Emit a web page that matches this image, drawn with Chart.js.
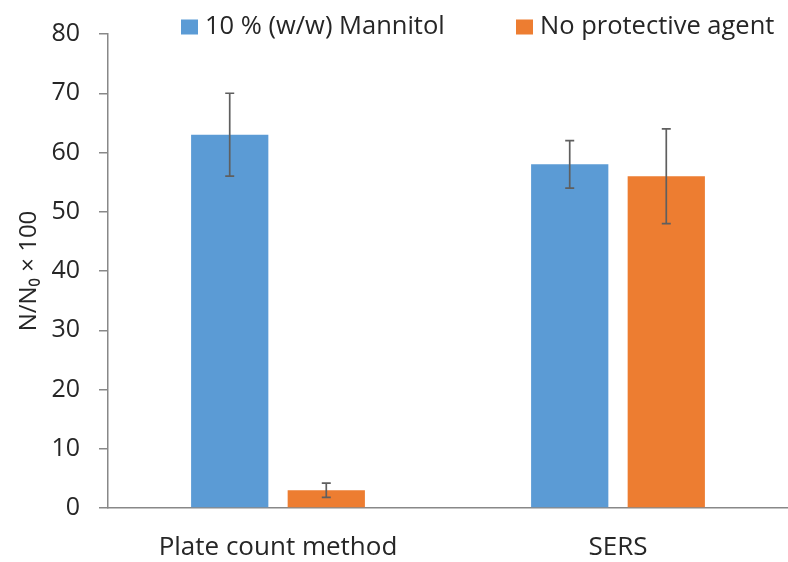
<!DOCTYPE html>
<html>
<head>
<meta charset="utf-8">
<script src="https://cdn.jsdelivr.net/npm/chart.js@4/dist/chart.umd.min.js"></script>
<style>
html,body{margin:0;padding:0;background:#fff;}
#wrap{width:788px;height:562px;}
</style>
</head>
<body>
<div id="wrap"><canvas id="c" width="788" height="562"></canvas></div>
<script>
const categories = ["Plate count method", "SERS"];
const seriesNames = ["10 % (w/w) Mannitol", "No protective agent"];
const mannitol = [63, 58];
const mannitolErr = [7, 4];
const noAgent = [3, 56];
const noAgentErr = [1.2, 8];
const yTicks = [0, 10, 20, 30, 40, 50, 60, 70, 80];

const errors = [mannitolErr, noAgentErr];
const FONT = "'Open Sans'";
const TEXT = '#262626';

const errorBars = {
  id: 'errorBars',
  afterDatasetsDraw(chart) {
    const ctx = chart.ctx;
    const y = chart.scales.y;
    ctx.save();
    ctx.strokeStyle = '#5f5f5f';
    ctx.lineWidth = 1.7;
    chart.data.datasets.forEach((ds, di) => {
      const meta = chart.getDatasetMeta(di);
      meta.data.forEach((bar, i) => {
        const v = ds.data[i], e = errors[di][i];
        const yt = y.getPixelForValue(v + e);
        const yb = y.getPixelForValue(v - e);
        const x = bar.x;
        ctx.beginPath();
        ctx.moveTo(x, yt); ctx.lineTo(x, yb);
        ctx.moveTo(x - 4.5, yt); ctx.lineTo(x + 4.5, yt);
        ctx.moveTo(x - 4.5, yb); ctx.lineTo(x + 4.5, yb);
        ctx.stroke();
      });
    });
    ctx.restore();
  }
};

const customLegend = {
  id: 'customLegend',
  afterDraw(chart) {
    const ctx = chart.ctx;
    ctx.save();
    ctx.font = '25.5px ' + FONT;
    ctx.textBaseline = 'middle';
    ctx.textAlign = 'left';
    const ds = chart.data.datasets;
    const boxW = 17, boxH = 15, gapText = 7;
    const starts = [181, 516];
    const yc = 27;
    ds.forEach((d, i) => {
      const x = starts[i];
      ctx.fillStyle = d.backgroundColor;
      ctx.fillRect(x, yc - boxH / 2, boxW, boxH);
      ctx.fillStyle = TEXT;
      ctx.fillText(d.label, x + boxW + gapText, yc);
    });
    ctx.restore();
  }
};

new Chart(document.getElementById('c'), {
  type: 'bar',
  data: {
    labels: categories,
    datasets: [
      { label: seriesNames[0], data: mannitol, backgroundColor: '#5B9BD5' },
      { label: seriesNames[1], data: noAgent, backgroundColor: '#ED7D31' }
    ]
  },
  options: {
    responsive: false,
    animation: false,
    devicePixelRatio: 1,
    categoryPercentage: 0.568,
    barPercentage: 0.8,
    layout: { padding: { top: 33, right: 0, bottom: 0, left: 0 } },
    plugins: {
      legend: { display: false },
      tooltip: { enabled: false }
    },
    scales: {
      x: {
        afterFit(scale) { scale.height = 54; },
        grid: { display: false, drawTicks: false },
        border: { display: true, color: '#888888', width: 1.5 },
        ticks: { color: TEXT, font: { family: FONT, size: 26 }, padding: 24 }
      },
      y: {
        min: 0, max: 80,
        afterBuildTicks(scale) { scale.ticks = yTicks.map(v => ({ value: v })); },
        afterFit(scale) { scale.width = 108; },
        grid: { drawOnChartArea: false, drawTicks: true, tickLength: 9, color: '#888888', lineWidth: 1.5 },
        border: { display: true, color: '#888888', width: 1.5 },
        ticks: { color: TEXT, font: { family: FONT, size: 25 }, padding: 19 },
        title: { display: true, text: 'N/N\u2080 \u00d7 100', color: TEXT, font: { family: FONT, size: 24 }, padding: { top: 15, bottom: 0 } }
      }
    }
  },
  plugins: [errorBars, customLegend]
});
</script>
</body>
</html>
